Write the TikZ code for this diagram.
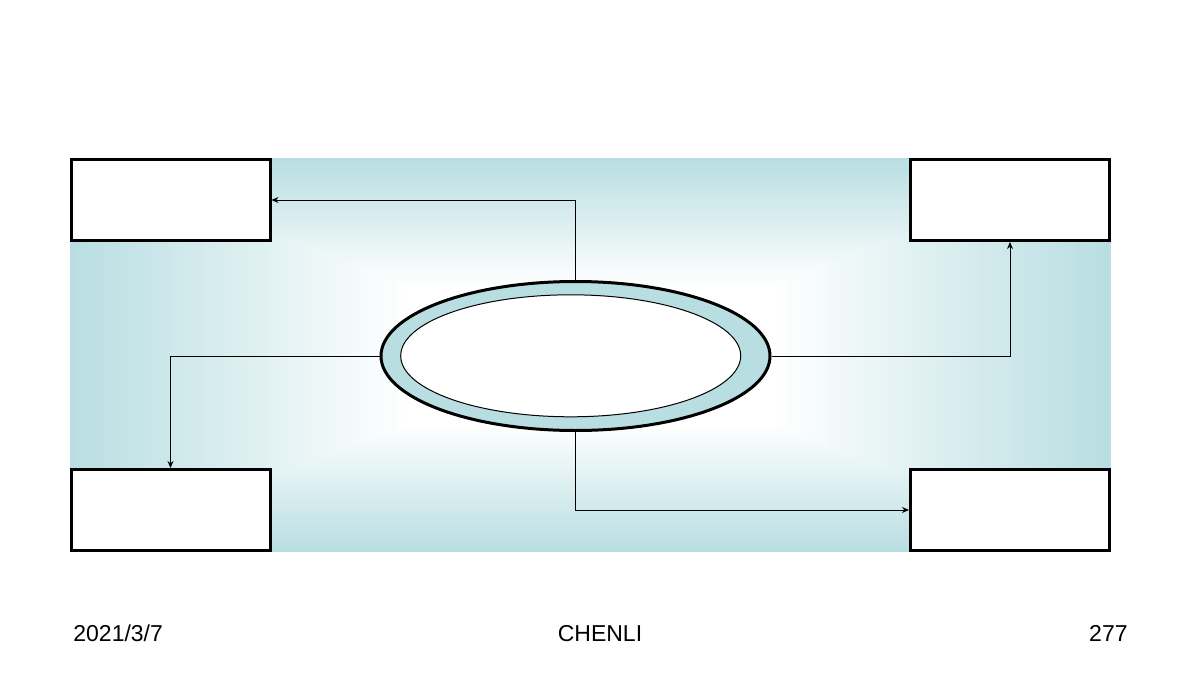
\documentclass[tikz,border=0pt]{standalone}
\usepackage{fontspec}
\setmainfont{Liberation Sans}
\usetikzlibrary{shapes.geometric,arrows.meta}

\begin{document}
\begin{tikzpicture}[x=0.5pt,y=-0.5pt]
    \definecolor{PaleTeal}{HTML}{B9DEE2}
    \tikzset{
        box/.style={draw, line width=1.5pt, fill=white, minimum width=99.5pt, minimum height=40.5pt, inner sep=0pt},
        link/.style={line width=0.5pt, -{Stealth[length=3.5pt,width=3pt]}},
        footer/.style={font=\fontsize{11.5}{13}\selectfont, inner sep=0pt}
    }
    \useasboundingbox (0,0) rectangle (1200,680);
    \coordinate (M) at (590.5,355);
    \foreach \k in {0,1,...,40}{
        \pgfmathsetmacro{\w}{520.5*(1-\k*0.016)}
        \pgfmathsetmacro{\h}{197*(1-\k*0.016)}
        \pgfmathsetmacro{\density}{100-\k*2.5}
        \fill[PaleTeal!\density] ([shift={(-\w,-\h)}]M) rectangle ([shift={(\w,\h)}]M);
    }
    \node[box] (tl) at (170.5,200) {};
    \node[box] (tr) at (1010,200) {};
    \node[box] (bl) at (170.5,510) {};
    \node[box] (br) at (1010,510) {};
    \node[ellipse, draw, line width=1.5pt, fill=PaleTeal, minimum width=194.5pt, minimum height=74.5pt, inner sep=0pt] (hub) at (575.5,356) {};
    \node[ellipse, draw, line width=0.5pt, fill=white, minimum width=170pt, minimum height=61pt, inner sep=0pt] (core) at (570.7,355.8) {};
    \draw[link] (hub.north) |- (tl.east);
    \draw[link] (hub.east) -| (tr.south);
    \draw[link] (hub.west) -| (bl.north);
    \draw[link] (hub.south) |- (br.west);
    \node[footer, anchor=base west] (date) at (73,641) {2021/3/7};
    \node[footer, anchor=base] (name) at (600,641) {CHENLI};
    \node[footer, anchor=base east] (page) at (1128,641) {277};
\end{tikzpicture}
\end{document}
